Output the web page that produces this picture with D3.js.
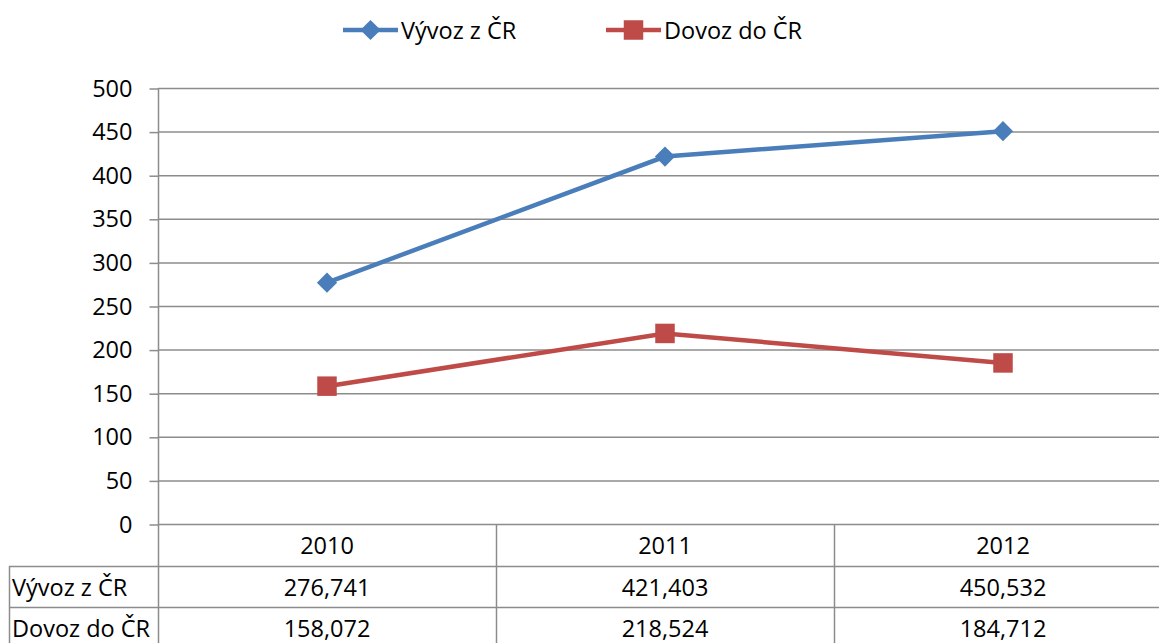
<!DOCTYPE html>
<html>
<head>
  <meta charset="utf-8">
  <title>Vývoz a dovoz ČR 2010 - 2012</title>
  <style>
    body { margin: 0; background: #fff; }
    text { font-family: "Open Sans", sans-serif; fill: #000; }
  </style>
</head>
<body>
  <script src="https://cdn.jsdelivr.net/npm/d3@7/dist/d3.min.js"></script>
  <script>
    // data
    var years = ["2010", "2011", "2012"];
    var vyvoz = [276.741, 421.403, 450.532];
    var dovoz = [158.072, 218.524, 184.712];
    var yTicks = [0, 50, 100, 150, 200, 250, 300, 350, 400, 450, 500];
    var seriesNames = ["Vývoz z ČR", "Dovoz do ČR"];

    var width = 1159, height = 643;
    var margin = {top: 88, right: -13, bottom: 119, left: 158};
    var fontSize = 23.5;
    var gridColor = "#8c8c8c";
    var colors = ["#4a7ebb", "#be4b48"];

    var svg = d3.select("body").append("svg")
      .attr("width", width)
      .attr("height", height);

    var x = d3.scaleBand().domain(years).range([margin.left, width - margin.right]);
    var y = d3.scaleLinear().domain([0, 500]).range([height - margin.bottom, margin.top]);

    // gridlines
    svg.append("g").attr("id", "grid")
      .selectAll("line").data(yTicks).enter().append("line")
      .attr("x1", margin.left).attr("x2", width - margin.right)
      .attr("y1", function(d) { return y(d) + 0.5; })
      .attr("y2", function(d) { return y(d) + 0.5; })
      .attr("stroke", gridColor).attr("stroke-width", 1.5);

    // y axis
    var yAxis = svg.append("g")
      .attr("transform", "translate(" + (margin.left + 0.5) + ",0.5)")
      .call(d3.axisLeft(y).tickValues(yTicks).tickSize(9).tickPadding(17).tickSizeOuter(0));
    yAxis.select(".domain").remove();
    yAxis.selectAll(".tick line").attr("stroke", gridColor).attr("stroke-width", 1.5);
    yAxis.selectAll(".tick text").style("font-size", fontSize + "px").style("font-family", "Open Sans").attr("fill", "#000");

    // data table lines
    var row0 = y(0), row1 = 566, row2 = 607, row3 = 648;
    var tableLeft = 9;
    var t = svg.append("g").attr("id", "table")
      .attr("stroke", gridColor).attr("stroke-width", 1.5);
    t.append("line").attr("x1", margin.left + 0.5).attr("x2", margin.left + 0.5)
      .attr("y1", margin.top).attr("y2", height);
    t.append("line").attr("x1", tableLeft + 0.5).attr("x2", tableLeft + 0.5)
      .attr("y1", row1).attr("y2", height);
    years.slice(1).forEach(function(yr) {
      t.append("line").attr("x1", x(yr) + 0.5).attr("x2", x(yr) + 0.5)
        .attr("y1", row0).attr("y2", height);
    });
    [row1, row2].forEach(function(r) {
      t.append("line").attr("x1", tableLeft).attr("x2", width)
        .attr("y1", r + 0.5).attr("y2", r + 0.5);
    });

    var fmt = function(v) { return v.toFixed(3).replace(".", ","); };

    // header row
    svg.append("g").selectAll("text").data(years).enter().append("text")
      .attr("x", function(d) { return x(d) + x.bandwidth() / 2; })
      .attr("y", (row0 + row1) / 2)
      .attr("text-anchor", "middle").attr("dominant-baseline", "central")
      .style("font-size", fontSize + "px")
      .text(function(d) { return d; });

    [vyvoz, dovoz].forEach(function(vals, i) {
      var top = i == 0 ? row1 : row2;
      var bottom = i == 0 ? row2 : row3;
      svg.append("text")
        .attr("x", tableLeft + 3).attr("y", (top + bottom) / 2)
        .attr("dominant-baseline", "central")
        .style("font-size", fontSize + "px")
        .text(seriesNames[i]);
      svg.append("g").selectAll("text").data(vals).enter().append("text")
        .attr("x", function(d, k) { return x(years[k]) + x.bandwidth() / 2; })
        .attr("y", (top + bottom) / 2)
        .attr("text-anchor", "middle").attr("dominant-baseline", "central")
        .style("font-size", fontSize + "px")
        .text(fmt);
    });

    // lines and markers
    var line = d3.line()
      .x(function(d, k) { return x(years[k]) + x.bandwidth() / 2; })
      .y(function(d) { return y(d); });

    var diamond = d3.symbol().type(d3.symbolDiamond2).size(260);
    var square = d3.symbol().type(d3.symbolSquare).size(380);

    [vyvoz, dovoz].forEach(function(vals, i) {
      svg.append("path")
        .attr("d", line(vals))
        .attr("fill", "none")
        .attr("stroke", colors[i])
        .attr("stroke-width", 4.5);
      svg.append("g").selectAll("path").data(vals).enter().append("path")
        .attr("transform", function(d, k) {
          return "translate(" + (x(years[k]) + x.bandwidth() / 2) + "," + y(d) + ")";
        })
        .attr("d", i == 0 ? diamond : square)
        .attr("fill", colors[i]);
    });

    // legend
    var legendX = [343, 606];
    seriesNames.forEach(function(name, i) {
      var g = svg.append("g").attr("transform", "translate(" + legendX[i] + ",30)");
      g.append("line").attr("x1", 0).attr("x2", 55)
        .attr("stroke", colors[i]).attr("stroke-width", 4.5);
      g.append("path").attr("transform", "translate(27.5,0)")
        .attr("d", i == 0 ? diamond : square).attr("fill", colors[i]);
      g.append("text").attr("x", 58).attr("y", 0)
        .attr("dominant-baseline", "central")
        .style("font-size", fontSize + "px")
        .text(name);
    });
  </script>
</body>
</html>
